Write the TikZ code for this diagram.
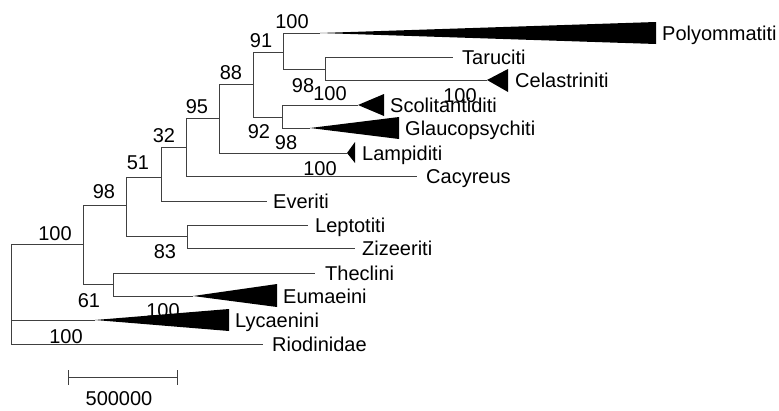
\documentclass[tikz,border=0pt]{standalone}
\usepackage{fontspec}
\setmainfont{Liberation Sans}
\tikzstyle{branch}=[draw=black!75,line width=1pt]
\tikzstyle{clade}=[fill=black]
\tikzstyle{taxon}=[anchor=base west,inner sep=0pt,font=\fontsize{20}{24}\selectfont]
\tikzstyle{boot}=[anchor=base,inner sep=0pt,font=\fontsize{20}{24}\selectfont]
\begin{document}
\begin{tikzpicture}[x=1pt,y=-1pt]
\useasboundingbox (0,0) rectangle (779,410);
% internal nodes
\coordinate (root) at (11,244);
\coordinate (n100) at (83,244);
\coordinate (n98) at (126,205);
\coordinate (n51) at (161,177);
\coordinate (n32) at (186,147);
\coordinate (n95) at (219,118);
\coordinate (n88) at (253,84);
\coordinate (n91) at (283,52);
\coordinate (ntc) at (325,69);
\coordinate (n92) at (282,117);
\coordinate (n83) at (187,236);
\coordinate (n61) at (113,284);
% leaf ends and clade apices
\coordinate (polyA) at (320,33);
\coordinate (taruE) at (453,57);
\coordinate (celaA) at (487,80);
\coordinate (scolA) at (358,105);
\coordinate (glauA) at (310,128);
\coordinate (lampA) at (347,153);
\coordinate (cacyE) at (417,176);
\coordinate (evenE) at (267,201);
\coordinate (leptE) at (308,225);
\coordinate (zizeE) at (355,248);
\coordinate (thecE) at (315,273);
\coordinate (eumaA) at (193,296);
\coordinate (lycaA) at (95,320);
\coordinate (riodE) at (263,344);
% support values
\node[boot] (b1) at (292,28) {100};
\node[boot] (b2) at (261,47) {91};
\node[boot] (b3) at (231,79) {88};
\node[boot] (b4) at (197,113) {95};
\node[boot] (b5) at (303,92) {98};
\node[boot] (b6) at (330,100) {100};
\node[boot] (b7) at (460,102) {100};
\node[boot] (b8) at (259,138) {92};
\node[boot] (b9) at (164,142) {32};
\node[boot] (b10) at (286,149) {98};
\node[boot] (b11) at (320,175) {100};
\node[boot] (b12) at (138,169) {51};
\node[boot] (b13) at (104,198) {98};
\node[boot] (b14) at (55,240) {100};
\node[boot] (b15) at (165,258) {83};
\node[boot] (b16) at (89,307) {61};
\node[boot] (b17) at (163,317) {100};
\node[boot] (b18) at (66,343) {100};
% branches
\draw[branch] (root) |- (n100);
\draw[branch] (root) |- (lycaA);
\draw[branch] (root) |- (riodE);
\draw[branch] (n100) |- (n98);
\draw[branch] (n100) |- (n61);
\draw[branch] (n98) |- (n51);
\draw[branch] (n98) |- (n83);
\draw[branch] (n51) |- (n32);
\draw[branch] (n51) |- (evenE);
\draw[branch] (n32) |- (n95);
\draw[branch] (n32) |- (cacyE);
\draw[branch] (n95) |- (n88);
\draw[branch] (n95) |- (lampA);
\draw[branch] (n88) |- (n91);
\draw[branch] (n88) |- (n92);
\draw[branch] (n91) |- (polyA);
\draw[branch] (n91) |- (ntc);
\draw[branch] (ntc) |- (taruE);
\draw[branch] (ntc) |- (celaA);
\draw[branch] (n92) |- (scolA);
\draw[branch] (n92) |- (glauA);
\draw[branch] (n83) |- (leptE);
\draw[branch] (n83) |- (zizeE);
\draw[branch] (n61) |- (thecE);
\draw[branch] (n61) |- (eumaA);
% collapsed clades
\fill[clade] (polyA) -- (656,22) -- (656,44) -- cycle;
\fill[clade] (celaA) -- (508,69) -- (508,92) -- cycle;
\fill[clade] (scolA) -- (384,94) -- (384,116) -- cycle;
\fill[clade] (glauA) -- (399,117) -- (399,139) -- cycle;
\fill[clade] (lampA) -- (355,142) -- (355,163) -- cycle;
\fill[clade] (eumaA) -- (277,284) -- (277,307) -- cycle;
\fill[clade] (lycaA) -- (229,309) -- (229,331) -- cycle;
% taxa
\node[taxon] (poly) at (662,40) {Polyommatiti};
\node[taxon] (taru) at (462,64) {Taruciti};
\node[taxon] (cela) at (515,87) {Celastriniti};
\node[taxon] (scol) at (390,112) {Scolitantiditi};
\node[taxon] (glau) at (405,135) {Glaucopsychiti};
\node[taxon] (lamp) at (362,160) {Lampiditi};
\node[taxon] (cacy) at (426,183) {Cacyreus};
\node[taxon] (ever) at (273,208) {Everiti};
\node[taxon] (lept) at (315,232) {Leptotiti};
\node[taxon] (zize) at (362,255) {Zizeeriti};
\node[taxon] (thec) at (325,280) {Theclini};
\node[taxon] (euma) at (283,303) {Eumaeini};
\node[taxon] (lyca) at (235,327) {Lycaenini};
\node[taxon] (riod) at (272,351) {Riodinidae};
% scale bar
\coordinate (sbL) at (68,377);
\coordinate (sbR) at (177,377);
\draw[branch] (sbL) -- (sbR);
\draw[branch] ([yshift=7pt]sbL) -- ([yshift=-8pt]sbL);
\draw[branch] ([yshift=7pt]sbR) -- ([yshift=-8pt]sbR);
\node[boot] (sb) at (119,405) {500000};
\end{tikzpicture}
\end{document}
